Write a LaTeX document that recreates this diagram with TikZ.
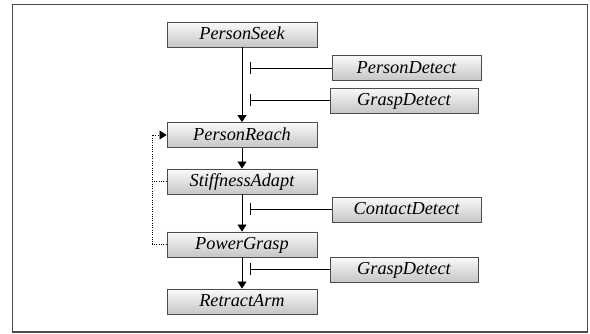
\documentclass[tikz,border=0pt]{standalone}
\usepackage{fontspec}
\setmainfont{Liberation Serif}
\usetikzlibrary{arrows.meta}

\begin{document}
\begin{tikzpicture}[x=1pt,y=-1pt,
    state/.style={draw=black!70,line width=0.9pt,top color=gray!4,bottom color=gray!45,
      minimum width=150pt,minimum height=25pt,inner sep=0pt,
      font=\fontsize{18.3}{20}\selectfont\itshape,text height=13pt,text depth=2pt},
    flow/.style={line width=0.9pt,-{Triangle[length=7pt,width=9pt]}},
    inhib/.style={line width=0.9pt,-{Bar[width=12pt,line width=1.2pt]}},
    back/.style={line width=0.8pt,dash pattern=on 1pt off 1.3pt}]
                \useasboundingbox (0,0) rectangle (590,334);
                \draw [black!70, line width=1.2pt] (12.5,4.5) rectangle (587.5,332);
                % Main
                \node [state] (seek) at (242,34.5) {PersonSeek};
                \node [state] (reach) at (242,135) {PersonReach};
                \node [state] (stiff) at (242,181.5) {StiffnessAdapt};
                \node [state] (grasp) at (242,244.5) {PowerGrasp};
                \node [state] (retract) at (242,301.5) {RetractArm};
                % Detect
                \node [state, minimum width=149pt] (persondet) at (406.5,68) {PersonDetect};
                \node [state, minimum width=148pt] (graspdet) at (404,100.5) {GraspDetect};
                \node [state, minimum width=149pt] (contactdet) at (406.5,209.5) {ContactDetect};
                \node [state, minimum width=148pt] (graspdetb) at (404,269.5) {GraspDetect};
                \draw [flow] (seek) -- (reach);
                \draw [flow] (reach) -- (stiff);
                \draw [flow] (stiff) -- (grasp);
                \draw [flow] (grasp) -- (retract);
                \coordinate (persondetbar) at (250,68);
                \coordinate (graspdetbar) at (250,100.5);
                \coordinate (contactdetbar) at (250,209.5);
                \coordinate (graspdetbbar) at (250,269.5);
                \draw [inhib] (persondet) -- (persondetbar);
                \draw [inhib] (graspdet) -- (graspdetbar);
                \draw [inhib] (contactdet) -- (contactdetbar);
                \draw [inhib] (graspdetb) -- (graspdetbbar);
                % Back
                \coordinate (loop) at (152,244.5);
                \draw [back] (grasp.west) -- (loop);
                \draw [back] (stiff.west) -- (stiff.west -| loop);
                \draw [back, -{Triangle[length=7pt,width=9pt]}] (loop) |- (reach.west);
            \end{tikzpicture}
\end{document}
